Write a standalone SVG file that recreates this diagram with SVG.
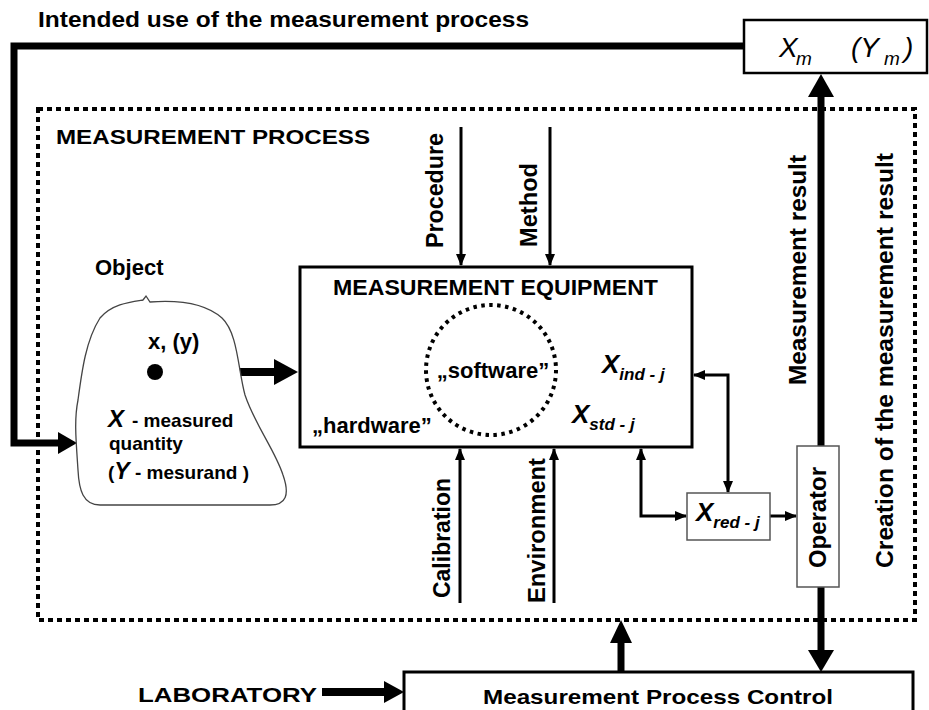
<svg xmlns="http://www.w3.org/2000/svg" width="929" height="710" viewBox="0 0 929 710">
  <style>
    .t { font-family: "Liberation Sans", Arial, sans-serif; font-weight: bold; fill: #000; }
    .it { font-family: "Liberation Sans", Arial, sans-serif; font-style: italic; fill: #000; }
    .thick { fill: none; stroke: #000; stroke-width: 7; }
    .thin { fill: none; stroke: #000; stroke-width: 3; }
    .head { fill: #000; stroke: none; }
    .box { fill: #fff; stroke: #000; stroke-width: 3; }
    .lbox { fill: #fff; stroke: #555; stroke-width: 1.5; }
    .dots { fill: none; stroke: #000; stroke-width: 4; stroke-dasharray: 5 4; }
  </style>
  <defs>
    <marker id="arr" viewBox="0 0 12 10" refX="11" refY="5" markerWidth="12" markerHeight="10" markerUnits="userSpaceOnUse" orient="auto-start-reverse">
      <path d="M0,0 L12,5 L0,10 Z" fill="#000"/>
    </marker>
  </defs>

  <rect width="929" height="710" fill="#fff"/>

  <!-- title -->
  <text class="t" x="38" y="27" font-size="22" textLength="491" lengthAdjust="spacingAndGlyphs">Intended use of the measurement process</text>

  <!-- measurement process boundary -->
  <g id="process">
    <rect class="dots" x="38" y="109" width="877" height="511"/>
    <text class="t" x="56" y="144" font-size="21" textLength="314" lengthAdjust="spacingAndGlyphs">MEASUREMENT PROCESS</text>
  </g>

  <g id="connectors">
    <!-- feedback from intended use into the object -->
    <path class="thick" d="M746 46 H14 V443 H60"/>
    <polygon class="head" points="58,432 77,443 58,454"/>
    <!-- quantity into equipment -->
    <path class="thick" d="M180 372 H276" style="stroke-width:8"/>
    <polygon class="head" points="274,359 298,372 274,385"/>
    <!-- procedure / method -->
    <path class="thin" d="M461 127 V265" marker-end="url(#arr)"/>
    <path class="thin" d="M550 127 V265" marker-end="url(#arr)"/>
    <!-- calibration / environment -->
    <path class="thin" d="M460 603 V449" marker-end="url(#arr)"/>
    <path class="thin" d="M554 603 V449" marker-end="url(#arr)"/>
    <!-- indication / standard to reduction -->
    <path class="thin" d="M694 375 H728 V492" marker-start="url(#arr)" marker-end="url(#arr)"/>
    <path class="thin" d="M641 449 V516 H686" marker-start="url(#arr)" marker-end="url(#arr)"/>
    <path class="thin" d="M770 516 H796" marker-end="url(#arr)"/>
    <!-- result line through operator -->
    <path class="thick" d="M821 95 V652"/>
    <polygon class="head" points="808,97 821,74 834,97"/>
    <polygon class="head" points="808,650 821,672 834,650"/>
    <!-- control back into the process -->
    <path class="thick" d="M621 672 V640"/>
    <polygon class="head" points="610,643 621,620 632,643"/>
    <!-- laboratory into control -->
    <path class="thick" d="M322 692 H387" style="stroke-width:8"/>
    <polygon class="head" points="384,681 404,692 384,703"/>
    <!-- dotted taps on equipment outputs -->
    <path d="M665 375 H690" fill="none" stroke="#000" stroke-width="3" stroke-dasharray="3 3"/>
    <path d="M641 421 V446" fill="none" stroke="#000" stroke-width="3" stroke-dasharray="3 3"/>
  </g>

  <g id="result-box">
    <rect x="744" y="20" width="183" height="53" fill="#fff" stroke="#000" stroke-width="2.5"/>
    <text class="it" font-size="28" y="57"><tspan x="779">X</tspan><tspan x="796" y="65" font-size="19">m</tspan><tspan x="851" y="57">(Y</tspan><tspan x="884" y="65" font-size="19">m</tspan><tspan x="904" y="57">)</tspan></text>
  </g>

  <g id="object">
    <path d="M143 300 L146 296 L150 302 C176 300 205 303 222 318 C238 333 238 370 245 395 C255 425 275 450 283 475 C290 495 286 505 270 505 L100 505 C83 505 79 490 78 470 C76 440 74 420 78 400 C82 370 86 340 100 318 C112 304 130 302 143 300 Z" fill="#fff" stroke="#444" stroke-width="1.3"/>
    <text class="t" x="95" y="275" font-size="22">Object</text>
    <text class="t" x="148" y="349" font-size="22">x, (y)</text>
    <circle cx="155" cy="372" r="8" fill="#000"/>
    <text class="t" x="108" y="427" font-size="19"><tspan class="it" font-weight="bold" font-size="24">X</tspan><tspan x="132">- measured</tspan></text>
    <text class="t" x="109" y="450" font-size="19">quantity</text>
    <text class="t" x="108" y="479" font-size="19">(<tspan class="it" font-weight="bold" font-size="23">Y</tspan> - mesurand )</text>
  </g>

  <g id="equipment">
    <rect class="box" x="300" y="267" width="392" height="180" fill="none"/>
    <text class="t" x="333" y="295" font-size="22" textLength="325" lengthAdjust="spacingAndGlyphs">MEASUREMENT EQUIPMENT</text>
    <circle cx="491" cy="370" r="65" fill="none" stroke="#000" stroke-width="4" stroke-dasharray="3.5 4.5"/>
    <text class="t" x="493" y="378" font-size="22" text-anchor="middle">„software”</text>
    <text class="t" x="312" y="433" font-size="22">„hardware”</text>
    <text class="it" font-weight="bold" font-size="26" x="602" y="373">X<tspan font-size="17" y="380">ind - j</tspan></text>
    <text class="it" font-weight="bold" font-size="26" x="572" y="423">X<tspan font-size="17" y="430">std - j</tspan></text>
  </g>

  <g id="procedure">
    <text class="t" font-size="23" transform="translate(443,248) rotate(-90)" textLength="115" lengthAdjust="spacingAndGlyphs">Procedure</text>
  </g>
  <g id="method">
    <text class="t" font-size="23" transform="translate(537,247) rotate(-90)" textLength="84" lengthAdjust="spacingAndGlyphs">Method</text>
  </g>
  <g id="calibration">
    <text class="t" font-size="23" transform="translate(450,598) rotate(-90)" textLength="120" lengthAdjust="spacingAndGlyphs">Calibration</text>
  </g>
  <g id="environment">
    <text class="t" font-size="23" transform="translate(545,603) rotate(-90)" textLength="145" lengthAdjust="spacingAndGlyphs">Environment</text>
  </g>

  <g id="reduction">
    <rect class="lbox" x="687" y="493" width="83" height="47"/>
    <text class="it" font-weight="bold" font-size="26" x="696" y="521">X<tspan font-size="17" y="528">red - j</tspan></text>
  </g>

  <g id="operator">
    <rect class="lbox" x="797" y="446" width="42" height="141"/>
    <text class="t" font-size="23" transform="translate(826,568) rotate(-90)" textLength="101" lengthAdjust="spacingAndGlyphs">Operator</text>
  </g>

  <g id="labels-right">
    <text class="t" font-size="23" transform="translate(806,385) rotate(-90)" textLength="230" lengthAdjust="spacingAndGlyphs">Measurement  result</text>
    <text class="t" font-size="23" transform="translate(893,568) rotate(-90)" textLength="415" lengthAdjust="spacingAndGlyphs">Creation of the measurement result</text>
  </g>

  <g id="laboratory">
    <text class="t" x="138" y="702" font-size="21" textLength="179" lengthAdjust="spacingAndGlyphs">LABORATORY</text>
  </g>

  <g id="control">
    <rect class="box" x="404" y="672" width="509" height="50"/>
    <text class="t" x="483" y="704" font-size="21" textLength="350" lengthAdjust="spacingAndGlyphs">Measurement Process Control</text>
  </g>
</svg>
